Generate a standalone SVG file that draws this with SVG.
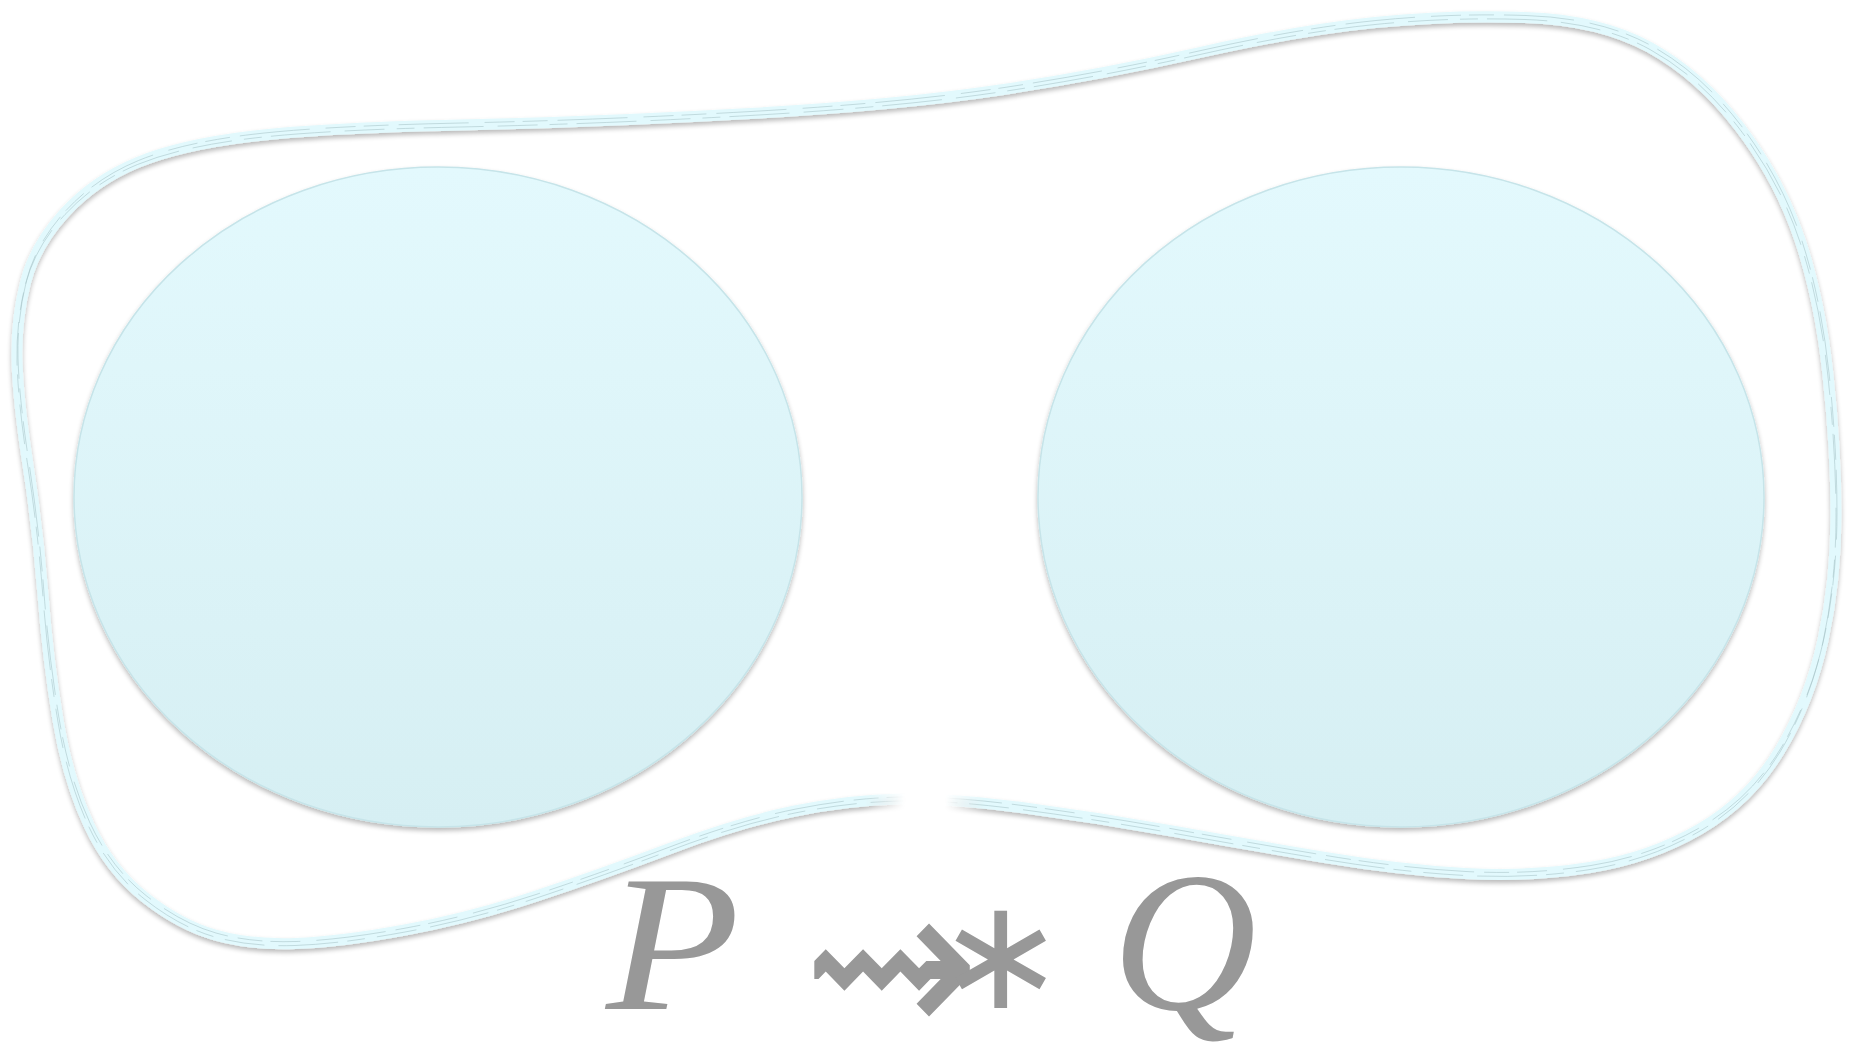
<svg xmlns="http://www.w3.org/2000/svg" width="1850" height="1051" viewBox="0 0 1850 1051">
  <defs>
    <linearGradient id="fillGrad" x1="0" y1="0" x2="0" y2="1">
      <stop offset="0" stop-color="#e3f9fd"/>
      <stop offset="1" stop-color="#d6eff3"/>
    </linearGradient>
    <filter id="shadow" x="-10%" y="-10%" width="120%" height="125%">
      <feGaussianBlur in="SourceAlpha" stdDeviation="2.5"/>
      <feOffset dx="0" dy="3" result="b"/>
      <feComponentTransfer><feFuncA type="linear" slope="0.28"/></feComponentTransfer>
      <feMerge><feMergeNode/><feMergeNode in="SourceGraphic"/></feMerge>
    </filter>
    <radialGradient id="gapGrad" cx="0.5" cy="0.5" r="0.5">
      <stop offset="0" stop-color="#000"/>
      <stop offset="0.35" stop-color="#000"/>
      <stop offset="1" stop-color="#fff"/>
    </radialGradient>
    <mask id="gapMask" maskUnits="userSpaceOnUse" x="0" y="0" width="1850" height="1051">
      <rect x="0" y="0" width="1850" height="1051" fill="#fff"/>
      <ellipse cx="925" cy="800" rx="60" ry="40" fill="url(#gapGrad)"/>
    </mask>
    <path id="blob" d="M17,360 Q16,320 25.5,282.5 Q35,245 65,212.5 Q95,180 137.5,162.5 Q180,145 250,136.5 Q320,128 460,125 Q600,122 750,113.5 Q900,105 1000,90 Q1100,75 1200,52.5 Q1300,30 1375,22.5 Q1450,15 1525,17.5 Q1600,20 1650,47.5 Q1700,75 1740,127.5 Q1780,180 1800,240 Q1820,300 1828,375 Q1836,450 1836,515 Q1836,580 1823,640 Q1810,700 1780,750 Q1750,800 1700,829 Q1650,858 1590,867.5 Q1530,877 1465,873.5 Q1400,870 1325,857.5 Q1250,845 1175,831.5 Q1100,818 1025,808 Q950,798 900,799 Q850,800 795,811 Q740,822 670,848.5 Q600,875 535,896.5 Q470,918 405,930 Q340,942 295,943.5 Q250,945 215,935 Q180,925 145,897.5 Q110,870 89,825 Q68,780 58,720 Q48,660 43,595 Q38,530 28,465 Q18,400 17,360 Z"/>
    <style>
      .node-fill { fill: url(#fillGrad); stroke: #c6e4e9; stroke-width: 1.5; }
      .outline-main { fill: none; stroke: #e2f9fd; stroke-width: 11; stroke-linejoin: round; }
      .outline-sketch { fill: none; stroke: #a4bfc3; stroke-width: 0.9; stroke-opacity: 0.6; stroke-dasharray: 40 12 18 9 60 14; }
      .label { fill: #989898; }
    </style>
  </defs>

  <g id="outer-region" filter="url(#shadow)">
    <g mask="url(#gapMask)">
      <use href="#blob" class="outline-main"/>
      <use href="#blob" class="outline-sketch" transform="translate(0,2)"/>
      <use href="#blob" class="outline-sketch" transform="translate(1,-2)" style="stroke-dasharray: 25 10 70 16 30 8"/>
    </g>
  </g>

  <g id="node-left" filter="url(#shadow)">
    <ellipse class="node-fill" cx="438" cy="497" rx="364" ry="330"/>
  </g>

  <g id="node-right" filter="url(#shadow)">
    <ellipse class="node-fill" cx="1401" cy="497" rx="363" ry="330"/>
  </g>

  <g id="connectors"></g>

  <g id="label" class="label">
    <text x="606" y="1009" font-family="Liberation Serif, serif" font-style="italic" font-size="196" textLength="134" lengthAdjust="spacingAndGlyphs">P</text>
    <text x="802" y="1015" transform="translate(0,963) scale(1,1.45) translate(0,-963)" font-family="DejaVu Sans, sans-serif" font-size="150" textLength="178" lengthAdjust="spacingAndGlyphs">⇝</text>
    <text x="1001" y="1008" font-family="DejaVu Sans, sans-serif" font-size="155" text-anchor="middle">∗</text>
    <text x="1112" y="1009" font-family="Liberation Serif, serif" font-style="italic" font-size="200">Q</text>
  </g>
</svg>
